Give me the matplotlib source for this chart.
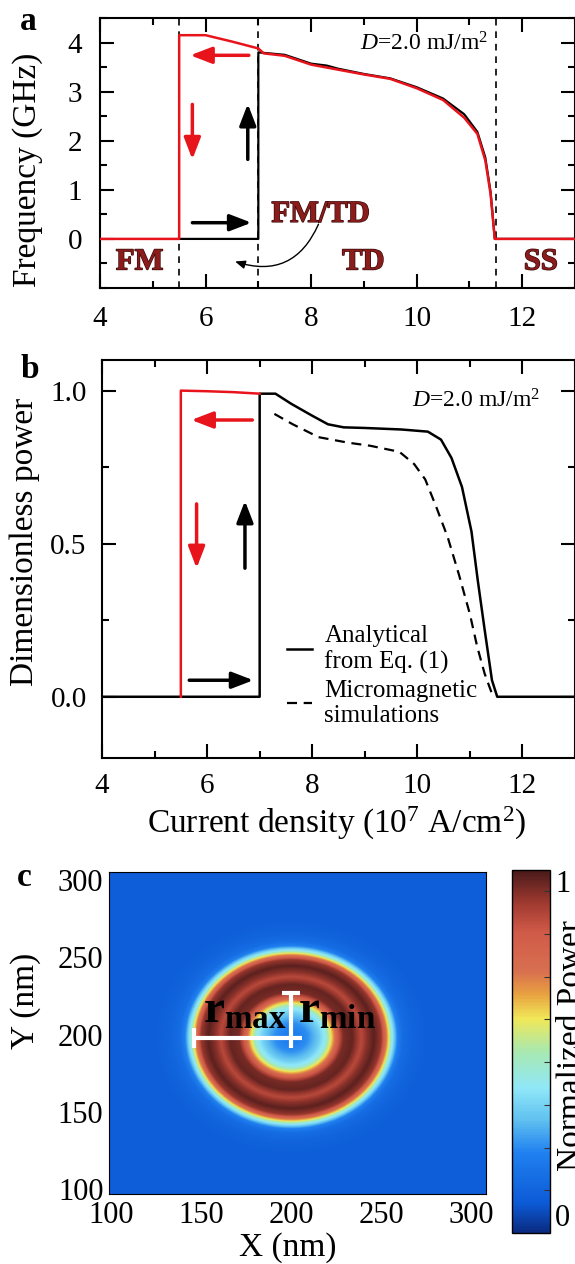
import numpy as np
import matplotlib
matplotlib.use('Agg')
import matplotlib.pyplot as plt
import matplotlib.patheffects as pe
from matplotlib.colors import LinearSegmentedColormap
from matplotlib.ticker import MultipleLocator

plt.rcParams['font.family'] = ['Liberation Serif', 'DejaVu Serif']
plt.rcParams['mathtext.fontset'] = 'custom'
plt.rcParams['mathtext.rm'] = 'Liberation Serif'
plt.rcParams['mathtext.it'] = 'Liberation Serif:italic'
plt.rcParams['mathtext.bf'] = 'Liberation Serif:bold'

RED = '#e8141c'
REGION = '#8a1c1c'

# --- panel a: frequency (GHz) vs current density (1e7 A/cm^2)
a_red_x = [4.0, 5.5, 5.5, 6.0, 6.5, 7.0, 7.1, 7.5, 8.0, 8.5, 9.0, 9.5, 10.0, 10.5, 10.9, 11.15, 11.3, 11.4, 11.48, 13.0]
a_red_y = [0.0, 0.0, 4.15, 4.15, 4.02, 3.88, 3.78, 3.73, 3.55, 3.45, 3.35, 3.26, 3.07, 2.83, 2.47, 2.14, 1.6, 0.92, 0.0, 0.0]
a_blk_x = [5.5, 7.0, 7.0, 7.5, 8.0, 8.3, 8.5, 9.0, 9.5, 10.0, 10.5, 10.9, 11.15, 11.3, 11.4, 11.48, 13.0]
a_blk_y = [0.0, 0.0, 3.8, 3.75, 3.57, 3.53, 3.47, 3.36, 3.27, 3.09, 2.86, 2.54, 2.18, 1.66, 0.96, 0.0, 0.0]
a_bounds = [5.5, 7.0, 11.5]

# --- panel b: dimensionless power
b_red_x = [5.5, 5.5, 6.0, 6.5, 7.0]
b_red_y = [0.0, 1.0, 0.998, 0.995, 0.99]
b_ana_x = [4.0, 7.0, 7.0, 7.3, 7.6, 8.0, 8.3, 8.6, 9.0, 9.7, 10.2, 10.45, 10.65, 10.85, 11.03, 11.15, 11.28, 11.42, 11.52, 13.0]
b_ana_y = [0.0, 0.0, 0.99, 0.99, 0.957, 0.918, 0.89, 0.88, 0.878, 0.873, 0.866, 0.84, 0.78, 0.685, 0.54, 0.38, 0.22, 0.054, 0.0, 0.0]
b_sim_x = [7.28, 7.63, 8.12, 8.68, 9.1, 9.66, 9.94, 10.15, 10.36, 10.58, 10.79, 11.0, 11.14, 11.28, 11.42]
b_sim_y = [0.924, 0.89, 0.848, 0.83, 0.82, 0.80, 0.76, 0.71, 0.62, 0.52, 0.40, 0.27, 0.163, 0.076, 0.01]

# --- panel c: radial power profile of the ring (nm, normalized)
ring_cx, ring_cy = 200.0, 198.0
ring_r = [0, 9, 15, 19, 22, 25.5, 29, 34, 39, 42, 46, 50, 53, 56, 59, 62, 67, 75, 200]
ring_p = [0.2, 0.24, 0.33, 0.42, 0.58, 0.8, 0.95, 0.97, 0.87, 0.93, 0.98, 0.92, 0.7, 0.42, 0.22, 0.15, 0.12, 0.1, 0.1]
r_max, r_min = 54.0, 29.0
c_xlim, c_ylim = (99, 308), (97, 305)

cmap_pos = [0.0, 0.08, 0.22, 0.31, 0.40, 0.50, 0.59, 0.66, 0.72, 0.83, 0.91, 1.0]
cmap_col = ['#0a2a80', '#0c5ad6', '#2080f0', '#60c0f0', '#90e8f8', '#a8e8b0',
            '#f0e858', '#e8a040', '#d87050', '#d05a48', '#a03a30', '#4a1a1a']
cmap = LinearSegmentedColormap.from_list('ring', list(zip(cmap_pos, cmap_col)))

W, H = 575, 1264
fig = plt.figure(figsize=(W / 100, H / 100), dpi=100)


def box(l, t, r, b):
    return [l / W, 1 - b / H, (r - l) / W, (b - t) / H]


def arrow(ax, tail, tip, color):
    ax.annotate('', xy=tip, xytext=tail,
                arrowprops=dict(arrowstyle='-|>,head_length=1.3,head_width=0.5',
                                lw=2.5, color=color, shrinkA=0, shrinkB=0,
                                mutation_scale=10))


def style_ax(ax, pad):
    for s in ax.spines.values():
        s.set_linewidth(1.5)
    ax.tick_params(which='both', direction='in', top=True, right=True,
                   width=1.5, labelsize=21, pad=pad)
    ax.tick_params(which='major', length=10)
    ax.tick_params(which='minor', length=5)
    ax.xaxis.set_major_locator(MultipleLocator(2))
    ax.xaxis.set_minor_locator(MultipleLocator(1))
    ax.set_xlim(4, 13)


def region(ax, x, y, s):
    ax.text(x, y, s, ha='center', va='center', fontsize=22, weight='bold',
            color=REGION, path_effects=[pe.withStroke(linewidth=1, foreground='#3b0a0a')])


# panel a
ax = fig.add_axes(box(100, 18, 575, 288))
style_ax(ax, 13)
for xb in a_bounds:
    ax.axvline(xb, color='k', lw=1.2, ls=(0, (4, 3.5)), zorder=1)
ax.plot(a_blk_x, a_blk_y, color='k', lw=1.6, zorder=2)
ax.plot(a_red_x, a_red_y, color=RED, lw=1.8, zorder=3)
ax.set_ylim(-1, 4.5)
ax.yaxis.set_major_locator(MultipleLocator(1))
ax.yaxis.set_minor_locator(MultipleLocator(0.5))
ax.set_yticks([0, 1, 2, 3, 4])
ax.set_yticklabels(['0', '1', '2', '3', '4'])
arrow(ax, (6.82, 3.74), (5.71, 3.74), RED)
arrow(ax, (5.75, 2.74), (5.75, 1.62), RED)
arrow(ax, (6.8, 1.62), (6.8, 2.75), 'k')
arrow(ax, (5.75, 0.33), (6.87, 0.33), 'k')
region(ax, 8.18, 0.5, 'FM/TD')
region(ax, 4.75, -0.47, 'FM')
region(ax, 8.99, -0.47, 'TD')
region(ax, 12.35, -0.47, 'SS')
ax.annotate('', xy=(6.56, -0.46), xytext=(8.14, 0.3),
            arrowprops=dict(arrowstyle='-|>,head_length=0.6,head_width=0.25', lw=1,
                            color='k', connectionstyle='arc3,rad=-0.45',
                            shrinkA=0, shrinkB=0, mutation_scale=10))
ax.text(11.36, 3.97, r'$D$=2.0 mJ/m$^2$', ha='right', va='center', fontsize=17)

# panel b
bx = fig.add_axes(box(102, 360, 575, 758))
style_ax(bx, 11)
bx.plot(b_ana_x, b_ana_y, color='k', lw=1.8, zorder=2, label='Analytical\nfrom Eq. (1)')
bx.plot(b_sim_x, b_sim_y, color='k', lw=1.6, ls=(0, (4.5, 3)), zorder=2,
        label='Micromagnetic\nsimulations')
bx.plot(b_red_x, b_red_y, color=RED, lw=1.8, zorder=3)
bx.set_ylim(-0.2, 1.1)
bx.set_yticks([0, 0.5, 1.0])
bx.set_yticklabels(['0.0', '0.5', '1.0'])
bx.yaxis.set_minor_locator(MultipleLocator(0.25))
arrow(bx, (6.86, 0.904), (5.7, 0.904), RED)
arrow(bx, (5.8, 0.63), (5.8, 0.42), RED)
arrow(bx, (6.72, 0.42), (6.72, 0.64), 'k')
arrow(bx, (5.66, 0.054), (6.88, 0.054), 'k')
bx.text(12.33, 0.967, r'$D$=2.0 mJ/m$^2$', ha='right', va='center', fontsize=17)
bx.legend(loc='upper left', bbox_to_anchor=(0.391, 0.335), frameon=False,
          fontsize=18, handlelength=1.0, handletextpad=0.5, labelspacing=0.25,
          borderpad=0, borderaxespad=0)

# panel c
xs = np.linspace(c_xlim[0], c_xlim[1], 420)
ys = np.linspace(c_ylim[0], c_ylim[1], 420)
X, Y = np.meshgrid(xs, ys)
P = np.interp(np.hypot(X - ring_cx, Y - ring_cy), ring_r, ring_p)
cx = fig.add_axes(box(109, 872, 486, 1194))
im = cx.imshow(P, extent=(*c_xlim, *c_ylim), origin='lower', cmap=cmap,
               vmin=0, vmax=1, aspect='auto', interpolation='bilinear')
cx.set_xlim(*c_xlim)
cx.set_ylim(*c_ylim)
cx.set_xticks([100, 150, 200, 250, 300])
cx.set_yticks([100, 150, 200, 250, 300])
cx.tick_params(length=0, labelsize=22)
cx.tick_params(axis='x', pad=5)
cx.tick_params(axis='y', pad=4)
for s in cx.spines.values():
    s.set_linewidth(0.8)
wkw = dict(color='white', lw=3, solid_capstyle='butt', zorder=4)
cx.plot([ring_cx - r_max, ring_cx + 6], [ring_cy, ring_cy], **wkw)
cx.plot([ring_cx - r_max, ring_cx - r_max], [ring_cy - 7, ring_cy + 6], **wkw)
cx.plot([ring_cx, ring_cx], [ring_cy - 7, ring_cy + r_min], **wkw)
cx.plot([ring_cx - 5, ring_cx + 5], [ring_cy + r_min, ring_cy + r_min], **wkw)
cx.text(ring_cx - 49, ring_cy + 9.5, r'$\mathbf{r}_{\mathbf{max}}$', fontsize=34,
        ha='left', va='baseline', zorder=5)
cx.text(ring_cx + 4, ring_cy + 9.5, r'$\mathbf{r}_{\mathbf{min}}$', fontsize=34,
        ha='left', va='baseline', zorder=5)

cax = fig.add_axes(box(512, 870, 550, 1233))
cb = fig.colorbar(im, cax=cax, ticks=[])
cb.outline.set_linewidth(1)
cax.yaxis.set_minor_locator(MultipleLocator(0.1177))
cax.tick_params(which='minor', direction='in', length=4, width=0.8, color='#333333')
cax.text(1.13, 1.0, '1', transform=cax.transAxes, fontsize=22, ha='left', va='top')
cax.text(1.13, 0.0, '0', transform=cax.transAxes, fontsize=22, ha='left', va='bottom')

# labels
fig.text(28 / W, 1 - 170 / H, 'Frequency (GHz)', rotation=90, ha='center', va='center', fontsize=24)
fig.text(25 / W, 1 - 542 / H, 'Dimensionless power', rotation=90, ha='center', va='center', fontsize=24)
fig.text(337 / W, 1 - 823 / H, r'Current density (10$^7$ A/cm$^2$)', ha='center', va='center', fontsize=24)
fig.text(26 / W, 1 - 1001 / H, 'Y (nm)', rotation=90, ha='center', va='center', fontsize=24)
fig.text(288 / W, 1 - 1248 / H, 'X (nm)', ha='center', va='center', fontsize=24)
fig.text(556 / W, 1 - 1046 / H, 'Normalized Power', rotation=90, ha='left', va='center', fontsize=24)
for lab, x, y in [('a', 28, 22), ('b', 30, 370), ('c', 24, 877)]:
    fig.text(x / W, 1 - y / H, lab, ha='center', va='center', fontsize=24, weight='bold')

fig.savefig('out.png', dpi=100)
